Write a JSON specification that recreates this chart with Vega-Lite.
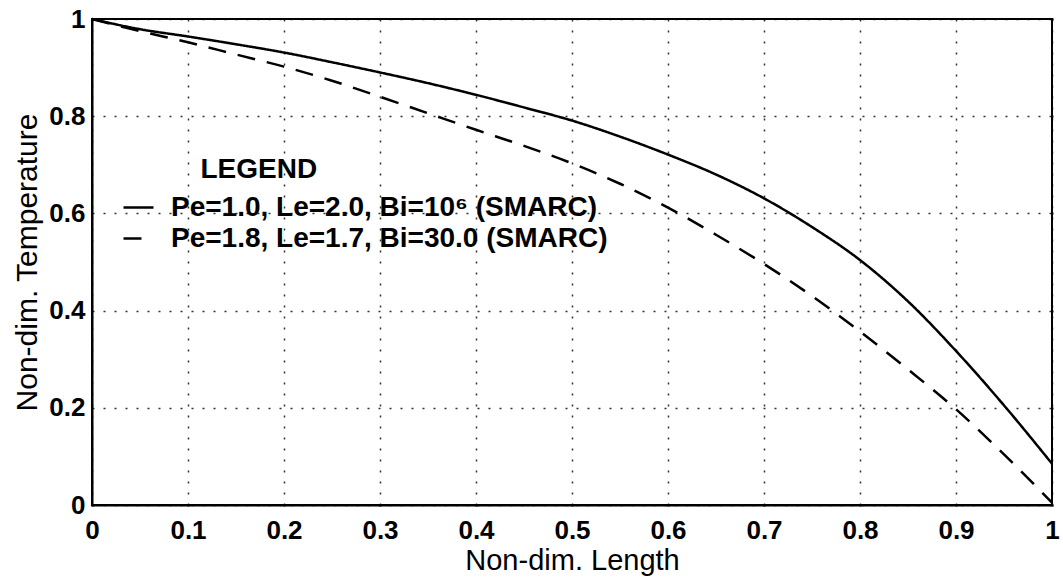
{
  "$schema": "https://vega.github.io/schema/vega-lite/v6.json",
  "width": 960,
  "height": 486,
  "autosize": {"type": "none"},
  "padding": {"left": 92, "top": 19, "right": 11, "bottom": 73},
  "background": "white",
  "config": {
    "font": "Liberation Sans",
    "view": {"stroke": "black", "strokeWidth": 2},
    "axis": {
      "domainColor": "black",
      "domainWidth": 2,
      "tickColor": "black",
      "tickWidth": 2,
      "labelColor": "black",
      "titleColor": "black",
      "gridColor": "black",
      "gridDash": [2, 9],
      "gridWidth": 1.5,
      "gridOpacity": 0.8
    }
  },
  "datasets": {
    "curves": [
      {"x": 0.0, "y": 1.0, "series": "Pe=1.0, Le=2.0, Bi=10⁶ (SMARC)"},
      {"x": 0.05, "y": 0.979, "series": "Pe=1.0, Le=2.0, Bi=10⁶ (SMARC)"},
      {"x": 0.1, "y": 0.964, "series": "Pe=1.0, Le=2.0, Bi=10⁶ (SMARC)"},
      {"x": 0.15, "y": 0.948, "series": "Pe=1.0, Le=2.0, Bi=10⁶ (SMARC)"},
      {"x": 0.2, "y": 0.931, "series": "Pe=1.0, Le=2.0, Bi=10⁶ (SMARC)"},
      {"x": 0.25, "y": 0.911, "series": "Pe=1.0, Le=2.0, Bi=10⁶ (SMARC)"},
      {"x": 0.3, "y": 0.89, "series": "Pe=1.0, Le=2.0, Bi=10⁶ (SMARC)"},
      {"x": 0.35, "y": 0.868, "series": "Pe=1.0, Le=2.0, Bi=10⁶ (SMARC)"},
      {"x": 0.4, "y": 0.844, "series": "Pe=1.0, Le=2.0, Bi=10⁶ (SMARC)"},
      {"x": 0.45, "y": 0.818, "series": "Pe=1.0, Le=2.0, Bi=10⁶ (SMARC)"},
      {"x": 0.5, "y": 0.791, "series": "Pe=1.0, Le=2.0, Bi=10⁶ (SMARC)"},
      {"x": 0.55, "y": 0.758, "series": "Pe=1.0, Le=2.0, Bi=10⁶ (SMARC)"},
      {"x": 0.6, "y": 0.721, "series": "Pe=1.0, Le=2.0, Bi=10⁶ (SMARC)"},
      {"x": 0.65, "y": 0.68, "series": "Pe=1.0, Le=2.0, Bi=10⁶ (SMARC)"},
      {"x": 0.7, "y": 0.631, "series": "Pe=1.0, Le=2.0, Bi=10⁶ (SMARC)"},
      {"x": 0.75, "y": 0.572, "series": "Pe=1.0, Le=2.0, Bi=10⁶ (SMARC)"},
      {"x": 0.8, "y": 0.504, "series": "Pe=1.0, Le=2.0, Bi=10⁶ (SMARC)"},
      {"x": 0.85, "y": 0.419, "series": "Pe=1.0, Le=2.0, Bi=10⁶ (SMARC)"},
      {"x": 0.9, "y": 0.317, "series": "Pe=1.0, Le=2.0, Bi=10⁶ (SMARC)"},
      {"x": 0.95, "y": 0.205, "series": "Pe=1.0, Le=2.0, Bi=10⁶ (SMARC)"},
      {"x": 1.0, "y": 0.085, "series": "Pe=1.0, Le=2.0, Bi=10⁶ (SMARC)"},
      {"x": 0.0, "y": 1.0, "series": "Pe=1.8, Le=1.7, Bi=30.0 (SMARC)"},
      {"x": 0.05, "y": 0.975, "series": "Pe=1.8, Le=1.7, Bi=30.0 (SMARC)"},
      {"x": 0.1, "y": 0.952, "series": "Pe=1.8, Le=1.7, Bi=30.0 (SMARC)"},
      {"x": 0.15, "y": 0.927, "series": "Pe=1.8, Le=1.7, Bi=30.0 (SMARC)"},
      {"x": 0.2, "y": 0.902, "series": "Pe=1.8, Le=1.7, Bi=30.0 (SMARC)"},
      {"x": 0.25, "y": 0.873, "series": "Pe=1.8, Le=1.7, Bi=30.0 (SMARC)"},
      {"x": 0.3, "y": 0.84, "series": "Pe=1.8, Le=1.7, Bi=30.0 (SMARC)"},
      {"x": 0.35, "y": 0.806, "series": "Pe=1.8, Le=1.7, Bi=30.0 (SMARC)"},
      {"x": 0.4, "y": 0.772, "series": "Pe=1.8, Le=1.7, Bi=30.0 (SMARC)"},
      {"x": 0.45, "y": 0.739, "series": "Pe=1.8, Le=1.7, Bi=30.0 (SMARC)"},
      {"x": 0.5, "y": 0.703, "series": "Pe=1.8, Le=1.7, Bi=30.0 (SMARC)"},
      {"x": 0.55, "y": 0.661, "series": "Pe=1.8, Le=1.7, Bi=30.0 (SMARC)"},
      {"x": 0.6, "y": 0.612, "series": "Pe=1.8, Le=1.7, Bi=30.0 (SMARC)"},
      {"x": 0.65, "y": 0.556, "series": "Pe=1.8, Le=1.7, Bi=30.0 (SMARC)"},
      {"x": 0.7, "y": 0.496, "series": "Pe=1.8, Le=1.7, Bi=30.0 (SMARC)"},
      {"x": 0.75, "y": 0.43, "series": "Pe=1.8, Le=1.7, Bi=30.0 (SMARC)"},
      {"x": 0.8, "y": 0.357, "series": "Pe=1.8, Le=1.7, Bi=30.0 (SMARC)"},
      {"x": 0.85, "y": 0.279, "series": "Pe=1.8, Le=1.7, Bi=30.0 (SMARC)"},
      {"x": 0.9, "y": 0.197, "series": "Pe=1.8, Le=1.7, Bi=30.0 (SMARC)"},
      {"x": 0.95, "y": 0.104, "series": "Pe=1.8, Le=1.7, Bi=30.0 (SMARC)"},
      {"x": 1.0, "y": 0.005, "series": "Pe=1.8, Le=1.7, Bi=30.0 (SMARC)"}
    ],
    "legendtitle": [{"x": 0.113, "y": 0.69, "label": "LEGEND"}]
  },
  "layer": [
    {
      "data": {"name": "curves"},
      "mark": {"type": "line", "color": "black", "strokeWidth": 2.5, "interpolate": "monotone"},
      "encoding": {
        "x": {
          "field": "x", "type": "quantitative",
          "scale": {"domain": [0, 1], "nice": false, "zero": false},
          "axis": {
            "values": [0, 0.1, 0.2, 0.3, 0.4, 0.5, 0.6, 0.7, 0.8, 0.9, 1],
            "format": "~g",
            "grid": true,
            "ticks": true,
            "tickSize": 1,
            "encoding": {"ticks": {"update": {"y2": {"value": -9}}}},
            "labelPadding": 11,
            "labelFontSize": 26,
            "labelFontWeight": "bold",
            "labelFlush": false,
            "title": "Non-dim. Length",
            "titleFontSize": 29,
            "titleFontWeight": "normal",
            "titlePadding": 3
          }
        },
        "y": {
          "field": "y", "type": "quantitative",
          "scale": {"domain": [0, 1], "nice": false, "zero": false},
          "axis": {
            "values": [0, 0.2, 0.4, 0.6, 0.8, 1],
            "format": "~g",
            "grid": true,
            "ticks": true,
            "tickSize": 1,
            "encoding": {"ticks": {"update": {"x2": {"value": 9}}}},
            "labelPadding": 6,
            "labelFontSize": 26,
            "labelFontWeight": "bold",
            "labelFlush": false,
            "title": "Non-dim. Temperature",
            "titleFontSize": 30,
            "titleFontWeight": "normal",
            "titlePadding": 6
          }
        },
        "strokeDash": {
          "field": "series", "type": "nominal",
          "scale": {
            "domain": ["Pe=1.0, Le=2.0, Bi=10⁶ (SMARC)", "Pe=1.8, Le=1.7, Bi=30.0 (SMARC)"],
            "range": [[1, 0], [18, 12]]
          },
          "legend": {
            "orient": "none",
            "legendX": 30,
            "legendY": 172,
            "title": null,
            "symbolType": "stroke",
            "symbolStrokeColor": "black",
            "symbolStrokeWidth": 2.5,
            "symbolSize": 900,
            "labelFontSize": 28,
            "labelFontWeight": "bold",
            "labelColor": "black",
            "labelLimit": 700,
            "labelOffset": 16,
            "rowPadding": -9,
            "padding": 0
          }
        }
      }
    },
    {
      "data": {"name": "legendtitle"},
      "mark": {"type": "text", "align": "left", "baseline": "middle", "fontSize": 28, "fontWeight": "bold", "color": "black"},
      "encoding": {
        "x": {
          "field": "x", "type": "quantitative",
          "axis": {"orient": "top", "values": [0, 0.1, 0.2, 0.3, 0.4, 0.5, 0.6, 0.7, 0.8, 0.9, 1], "labels": false, "title": null, "ticks": true, "tickSize": 1, "encoding": {"ticks": {"update": {"y2": {"value": 9}}}}, "domain": false, "grid": false}
        },
        "y": {
          "field": "y", "type": "quantitative",
          "axis": {"orient": "right", "values": [0, 0.2, 0.4, 0.6, 0.8, 1], "labels": false, "title": null, "ticks": true, "tickSize": 1, "encoding": {"ticks": {"update": {"x2": {"value": -9}}}}, "domain": false, "grid": false}
        },
        "text": {"field": "label"}
      }
    }
  ],
  "resolve": {"axis": {"x": "independent", "y": "independent"}}
}
